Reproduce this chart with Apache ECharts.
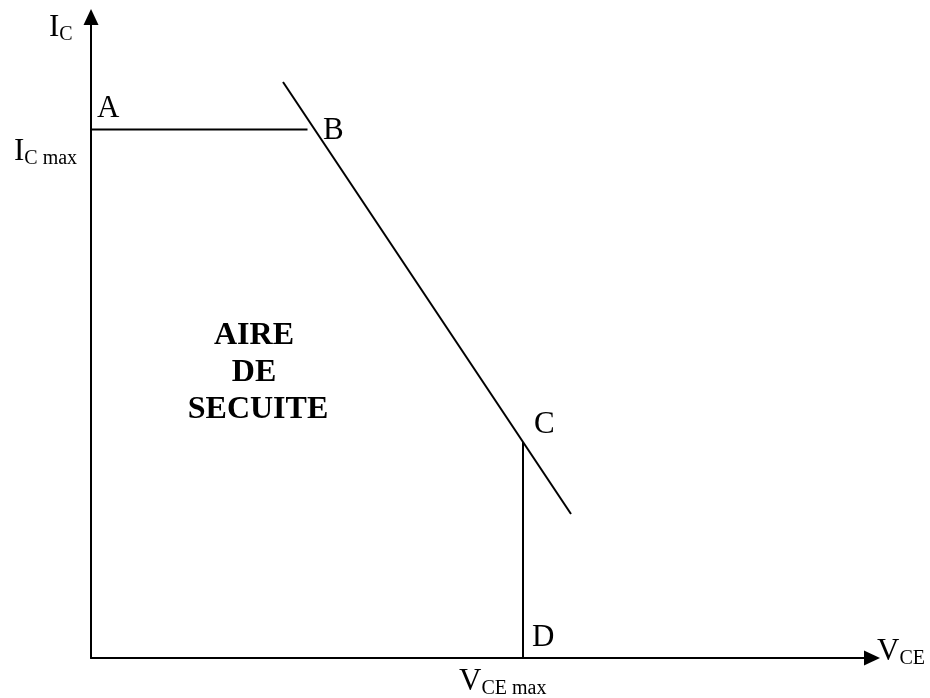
<!DOCTYPE html>
<html>
<head>
<meta charset="utf-8">
<script src="https://cdn.jsdelivr.net/npm/echarts@6/dist/echarts.min.js"></script>
<style>
    html, body { margin: 0; padding: 0; background: #fff; }
    #chart { width: 930px; height: 698px; }
</style>
</head>
<body>
<div id="chart"></div>
<script>
// 坐标范围 (数据单位)
const xMax = 781
const yMax = 641

// 三段边界线: A-B 水平, 功率极限斜线, C-D 垂直
const segAB = [[0, 528.5], [216.5, 528.5]]
const segLimit = [[192, 576], [480, 144]]
const segCD = [[432, 216], [432, 0]]

const areaText = 'AIRE \nDE \nSECUITE'

const serif = '"Liberation Serif", "Times New Roman", serif'
const rich = {
    m: { fontSize: 31, lineHeight: 34, fontFamily: serif, fill: '#000' },
    s: { fontSize: 20, lineHeight: 20, fontFamily: serif, fill: '#000', verticalAlign: 'bottom' }
}

// 文字标注
function label (text, x, y) {
    return {
        type: 'text',
        x: x,
        y: y,
        style: { text: text, rich: rich, verticalAlign: 'top', fill: '#000' }
    }
}

let myChart = echarts.init(document.getElementById('chart'))

function seg (data) {
    return {
        type: 'line',
        data: data,
        symbol: 'none',
        lineStyle: { color: '#000', width: 2 },
        silent: true
    }
}

myChart.setOption({
    animation: false,
    grid: { left: 91, right: 58, top: 17, bottom: 40 },
    xAxis: {
        type: 'value',
        min: 0,
        max: xMax,
        splitLine: { show: false },
        axisTick: { show: false },
        axisLabel: { show: false },
        axisLine: {
            lineStyle: { color: '#000', width: 2 },
            symbol: ['none', 'triangle'],
            symbolSize: [15, 16]
        }
    },
    yAxis: {
        type: 'value',
        min: 0,
        max: yMax,
        splitLine: { show: false },
        axisTick: { show: false },
        axisLabel: { show: false },
        axisLine: {
            lineStyle: { color: '#000', width: 2 },
            symbol: ['none', 'triangle'],
            symbolSize: [15, 16]
        }
    },
    series: [seg(segAB), seg(segLimit), seg(segCD)],
    graphic: [
        label('{m|I}{s|C}', 49, 11),
        label('{m|A}', 97, 92),
        label('{m|I}{s|C max}', 14, 135),
        label('{m|B}', 323, 114),
        label('{m|C}', 534, 408),
        label('{m|D}', 532, 621),
        label('{m|V}{s|CE}', 877, 635),
        label('{m|V}{s|CE max}', 459, 665),
        {
            type: 'text',
            x: 258,
            y: 317,
            style: {
                text: areaText,
                font: 'bold 32px ' + serif,
                lineHeight: 37,
                align: 'center',
                verticalAlign: 'top',
                fill: '#000'
            }
        }
    ]
})
</script>
</body>
</html>
